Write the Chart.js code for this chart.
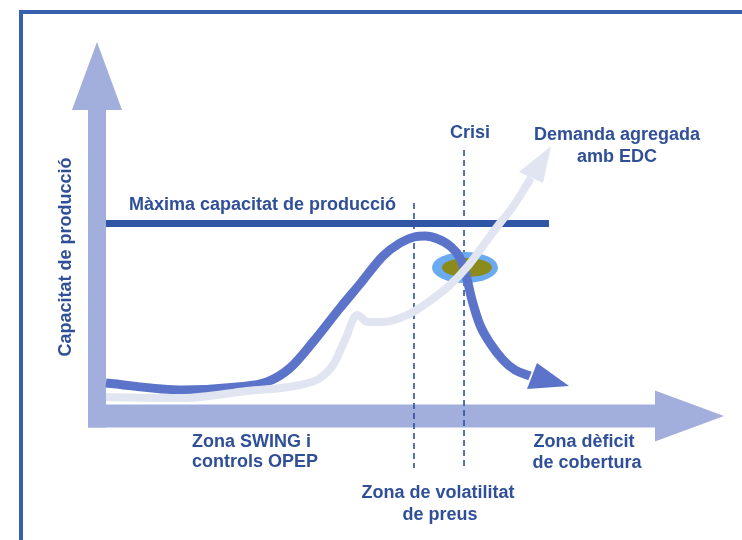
<!DOCTYPE html>
<html>
<head>
<meta charset="utf-8">
<script src="https://cdn.jsdelivr.net/npm/chart.js@4.4.1/dist/chart.umd.min.js"></script>
<style>
html,body{margin:0;padding:0;background:#fff;}
#wrap{position:relative;width:742px;height:540px;overflow:hidden;}
#frame{position:absolute;left:19px;top:10px;width:800px;height:600px;border:4px solid #3761ae;box-sizing:border-box;}
#c{position:absolute;left:0;top:0;}
</style>
</head>
<body>
<div id="wrap"><div id="frame"></div><canvas id="c" width="742" height="540"></canvas></div>
<script>
// esquema: eix x = producció/temps (0..100), eix y = capacitat (0..100)
// corba de capacitat de producció
const prodX = [1.5,14.33,23.33,28.33,32.17,36,40.5,43.83,47.67,50.5,52.83,54.67,56.83,58.83,60.5,61.5,62.5,63.83,65.5,67.67,69.67,72.17];
const prodY = [11,8.67,9.67,11.33,16,24.67,36,44,53.33,57.67,59.67,60,59,56.67,52.67,47,38.67,30.33,24.33,18.67,15.33,13.33];
// demanda agregada amb EDC
const demX = [1.5,14.33,25,33.83,37.17,39.33,41.33,43.33,45.17,47.67,50.5,52.67,55,58.83,61.67,63.83,67.17,69.17,72.33];
const demY = [6.33,6,8.33,10.33,12.67,17,25.33,33.67,31.33,31.33,32.67,34.67,37.67,43.67,49.67,55.33,64.33,69.33,79.33];
// puntes de fletxa
const prodHead = [[73.33,17.67],[78.67,10],[71.67,9]];
const demHead = [[70.33,81.33],[75.67,90],[74.33,77.67]];
// màxima capacitat
const maxX = [1.5,75.33];
const maxY = [64.17,64.17];
// línies verticals (zona volatilitat / crisi)
const volX = 52.83, crisiX = 61.17;
const volY = [71,-17.33];
const crisiY = [88.67,-17.33];
// punt de crisi
const crisiPt = {x:61.33,y:49.5};

const AXIS = '#a2afdc', TXT = '#2f4f98';

const pts = (xs,ys)=>xs.map((v,i)=>({x:v,y:ys[i]}));

function poly(ctx,x,y,list){
  ctx.beginPath();
  list.forEach((p,i)=>{
    const px=x.getPixelForValue(p[0]), py=y.getPixelForValue(p[1]);
    if(i===0) ctx.moveTo(px,py); else ctx.lineTo(px,py);
  });
  ctx.closePath();
  ctx.fill();
}

const labels = [
  {t:'Màxima capacitat de producció',x:5.33,y:70.33,a:'left'},
  {t:'Crisi',x:62.17,y:94.33},
  {t:'Demanda agregada',x:86.67,y:93.67},
  {t:'amb EDC',x:86.67,y:86.33},
  {t:'Zona SWING i',x:15.83,y:-8.67,a:'left'},
  {t:'controls OPEP',x:15.83,y:-15.33,a:'left'},
  {t:'Zona dèficit',x:81.17,y:-8.67},
  {t:'de cobertura',x:81.67,y:-15.67},
  {t:'Zona de volatilitat',x:56.83,y:-25.67},
  {t:'de preus',x:57.17,y:-33}
];

const decor = {
  id:'decor',
  beforeDatasetsDraw(chart){
    const {ctx,scales:{x,y}} = chart;
    ctx.save();
    ctx.fillStyle = AXIS;
    poly(ctx,x,y,[[-1.5,-3.83],[1.5,-3.83],[1.5,102],[4.17,102],[0,124.67],[-4.17,102],[-1.5,102]]);
    poly(ctx,x,y,[[-1.5,3.83],[93,3.83],[93,8.5],[104.5,0],[93,-8.5],[93,-3.83],[-1.5,-3.83]]);
    ctx.restore();
  },
  beforeDatasetDraw(chart,args){
    const {ctx,scales:{x,y}} = chart;
    if(chart.data.datasets[args.index].label!=='prod') return;
    // zona de crisi sota la corba
    const cx=x.getPixelForValue(crisiPt.x), cy=y.getPixelForValue(crisiPt.y);
    const ux=x.getPixelForValue(1)-x.getPixelForValue(0), uy=y.getPixelForValue(0)-y.getPixelForValue(1);
    ctx.save();
    ctx.fillStyle = '#6aaaf0';
    ctx.beginPath(); ctx.ellipse(cx,cy,5.5*ux,5.17*uy,0,0,Math.PI*2); ctx.fill();
    ctx.fillStyle = '#8b8a1c';
    ctx.beginPath(); ctx.ellipse(cx+2,cy,4.17*ux,3.17*uy,0,0,Math.PI*2); ctx.fill();
    ctx.restore();
  },
  afterDatasetDraw(chart,args){
    const {ctx,scales:{x,y}} = chart;
    const lab = chart.data.datasets[args.index].label;
    ctx.save();
    if(lab==='prod'){
      ctx.fillStyle = '#5b73c8';
      poly(ctx,x,y,prodHead);
    }
    if(lab==='dem'){
      ctx.fillStyle = '#e1e5f1';
      poly(ctx,x,y,demHead);
    }
    ctx.restore();
  },
  afterDraw(chart){
    const {ctx,scales:{x,y}} = chart;
    ctx.save();
    ctx.fillStyle = TXT;
    ctx.textBaseline = 'middle';
    ctx.font = 'bold 18px "Liberation Sans", Arial, sans-serif';
    labels.forEach(l=>{
      ctx.textAlign = l.a||'center';
      ctx.fillText(l.t,x.getPixelForValue(l.x),y.getPixelForValue(l.y));
    });
    ctx.translate(x.getPixelForValue(-5.17),y.getPixelForValue(53));
    ctx.rotate(-Math.PI/2);
    ctx.textAlign = 'center';
    ctx.fillText('Capacitat de producció',0,0);
    ctx.restore();
  }
};

new Chart(document.getElementById('c'),{
  type:'scatter',
  data:{datasets:[
    {label:'dem',data:pts(demX,demY),showLine:true,borderColor:'#e1e5f1',borderWidth:8,pointRadius:0,cubicInterpolationMode:'monotone',order:1},
    {label:'prod',data:pts(prodX,prodY),showLine:true,borderColor:'#5b73c8',borderWidth:9,pointRadius:0,cubicInterpolationMode:'monotone',order:2},
    {label:'max',data:pts(maxX,maxY),showLine:true,borderColor:'#2f56a4',borderWidth:7,pointRadius:0,order:3},
    {label:'vol',data:pts([volX,volX],volY),showLine:true,borderColor:TXT,borderWidth:1.6,borderDash:[6,4],pointRadius:0,order:4},
    {label:'crisi',data:pts([crisiX,crisiX],crisiY),showLine:true,borderColor:TXT,borderWidth:1.6,borderDash:[6,4],pointRadius:0,order:5}
  ]},
  options:{
    responsive:false,animation:false,
    layout:{padding:0},
    plugins:{legend:{display:false},tooltip:{enabled:false}},
    scales:{
      x:{type:'linear',display:false,min:-97/6,max:645/6},
      y:{type:'linear',display:false,min:-124/3,max:416/3}
    }
  },
  plugins:[decor]
});
</script>
</body>
</html>
